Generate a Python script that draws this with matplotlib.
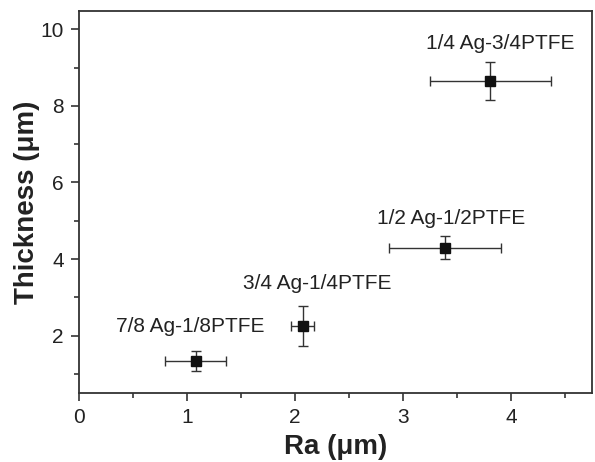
import numpy as np
import matplotlib
matplotlib.use("Agg")
import matplotlib.pyplot as plt
from matplotlib.ticker import MultipleLocator

plt.rcParams['font.family'] = ['Liberation Sans', 'DejaVu Sans']

# data
labels = ["7/8 Ag-1/8PTFE", "3/4 Ag-1/4PTFE", "1/2 Ag-1/2PTFE", "1/4 Ag-3/4PTFE"]
ra = [1.08, 2.07, 3.39, 3.81]
ra_err = [0.28, 0.11, 0.52, 0.56]
thick = [1.33, 2.26, 4.30, 8.65]
thick_err = [0.26, 0.52, 0.30, 0.50]
label_x = [1.03, 2.21, 3.45, 3.90]
label_y = [2.23, 3.36, 5.07, 9.62]

fig = plt.figure(figsize=(5.95, 4.62), dpi=100)
ax = fig.add_axes([79/595, 1 - 393/462, 513/595, 382/462])

ax.errorbar(ra, thick, xerr=ra_err, yerr=thick_err, fmt='s', color='#111111',
            ms=7, ecolor='#333333', elinewidth=1, capsize=3.5, capthick=1)

for lx, ly, t in zip(label_x, label_y, labels):
    ax.text(lx, ly, t, ha='center', va='center', fontsize=15, color='#222222')

ax.set_xlim(0, 4.75)
ax.set_ylim(0.5, 10.48)
ax.xaxis.set_major_locator(MultipleLocator(1))
ax.xaxis.set_minor_locator(MultipleLocator(0.5))
ax.yaxis.set_major_locator(MultipleLocator(2))
ax.yaxis.set_minor_locator(MultipleLocator(1))
ax.tick_params(which='major', direction='out', length=6, width=1.2, labelsize=15,
               color='#333333', labelcolor='#222222', pad=5)
ax.tick_params(axis='x', which='major', pad=5)
ax.tick_params(which='minor', direction='out', length=3.5, width=1.2, color='#333333')
for s in ax.spines.values():
    s.set_linewidth(1.3)
    s.set_color('#333333')

ax.set_xlabel("Ra (μm)", fontsize=20, fontweight='bold', color='#222222', labelpad=5)
ax.set_ylabel("Thickness (μm)", fontsize=20, fontweight='bold', color='#222222', labelpad=0)

fig.savefig("out.png", dpi=100)
